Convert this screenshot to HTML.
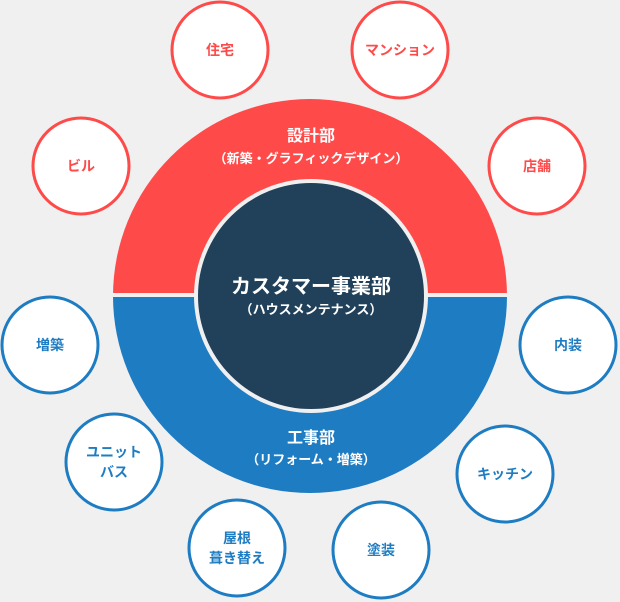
<!DOCTYPE html>
<html><head><meta charset="utf-8"><style>
html,body{margin:0;padding:0;background:#f0f0f0;}
svg{display:block;}
text{font-family:"Liberation Sans","Noto Sans CJK JP",sans-serif;font-weight:bold;text-anchor:middle;}
</style></head><body>
<svg width="620" height="602" viewBox="0 0 620 602">
<rect width="620" height="602" fill="#f0f0f0"/>
<path d="M113,296 A197,197 0 0 1 507,296 Z" fill="#ff4a4a"/>
<path d="M113,296 A197,197 0 0 0 507,296 Z" fill="#1e7cc2"/>
<rect x="110" y="293" width="400" height="4" fill="#f0f0f0"/>
<circle cx="311" cy="296" r="115" fill="#21405a" stroke="#f0f0f0" stroke-width="4"/>
<text x="311" y="141" font-size="16" fill="#fff">設計部</text>
<text x="311" y="163" font-size="13" fill="#fff" font-weight="normal">（新築・グラフィックデザイン）</text>
<text x="311" y="293" font-size="20" fill="#fff">カスタマー事業部</text>
<text x="311" y="314" font-size="13" fill="#fff" font-weight="normal">（ハウスメンテナンス）</text>
<text x="311" y="443" font-size="16" fill="#fff">工事部</text>
<text x="311" y="464" font-size="13" fill="#fff" font-weight="normal">（リフォーム・増築）</text>
<g fill="#fff" stroke="#ff4a4a" stroke-width="3">
<circle cx="220" cy="50" r="48"/>
<circle cx="400" cy="50" r="48"/>
<circle cx="81" cy="166" r="48"/>
<circle cx="537" cy="166" r="48"/>
</g>
<g fill="#ff4a4a" font-size="14">
<text x="220" y="55">住宅</text>
<text x="400" y="55">マンション</text>
<text x="81" y="171">ビル</text>
<text x="537" y="171">店舗</text>
</g>
<g fill="#fff" stroke="#1e7cc2" stroke-width="3">
<circle cx="50" cy="345" r="48"/>
<circle cx="568" cy="345" r="48"/>
<circle cx="114" cy="462" r="48"/>
<circle cx="505" cy="474" r="48"/>
<circle cx="237" cy="548" r="48"/>
<circle cx="381" cy="550" r="48"/>
</g>
<g fill="#1e7cc2" font-size="14">
<text x="50" y="350">増築</text>
<text x="568" y="350">内装</text>
<text x="114" y="457">ユニット</text>
<text x="114" y="477">バス</text>
<text x="505" y="479">キッチン</text>
<text x="237" y="543">屋根</text>
<text x="237" y="563">葺き替え</text>
<text x="381" y="555">塗装</text>
</g>
</svg>
</body></html>
